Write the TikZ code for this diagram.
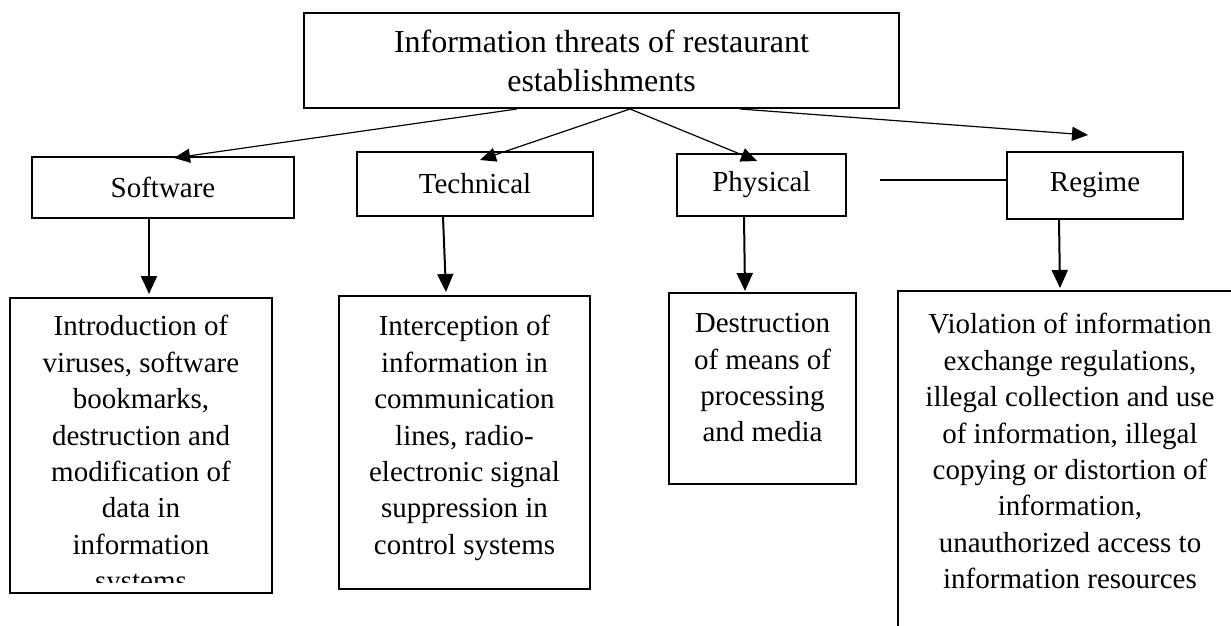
\documentclass[tikz,border=0pt]{standalone}
\usepackage{fontspec}
\setmainfont{Liberation Serif}
\usetikzlibrary{arrows.meta}

\begin{document}
\begin{tikzpicture}[x=0.5pt, y=-0.5pt, >={Triangle[length=8pt, width=7pt]},
  box/.style={draw, line width=1pt, inner sep=0pt, align=center, font=\fontsize{14.5}{18.2}\selectfont},
  txt/.style={inner sep=0pt, anchor=north, align=center, font=\fontsize{14.5}{18.2}\selectfont},
  thin arrow/.style={->, line width=0.6pt},
  thick arrow/.style={-{Triangle[length=9pt, width=8pt]}, line width=1pt}]
\useasboundingbox (0,0) rectangle (1231,626);
\clip (0,0) rectangle (1231,626);
\node[box, minimum width=297.5pt, minimum height=47.5pt, font=\fontsize{16}{19.5}\selectfont] (threats) at (601.5,60.5) {Information threats of restaurant\\establishments};
\node[box, minimum width=131pt, minimum height=30.5pt] (soft) at (163,187.5) {Software};
\node[box, minimum width=118pt, minimum height=32pt] (tech) at (475,184) {Technical};
\node[box, minimum width=84.5pt, minimum height=31pt] (phys) at (761.5,185) {Physical};
\node[box, minimum width=88pt, minimum height=33.5pt] (regime) at (1095,185.5) {Regime};
\node[box, minimum width=131pt, minimum height=147.5pt] (softDet) at (141,445.5) {};
\node[box, minimum width=125.5pt, minimum height=146.5pt] (techDet) at (464.5,442.5) {};
\node[box, minimum width=93.5pt, minimum height=95.5pt] (physDet) at (762.5,388.5) {};
\node[box, minimum width=172pt, minimum height=204.5pt] (regDet) at (1070,495.5) {};
\begin{scope}
\clip (10,298) rectangle (272,582);
\node[txt] (softText) at (141,315) {Introduction of\\viruses, software\\bookmarks,\\destruction and\\modification of\\data in\\information\\systems};
\end{scope}
\node[txt] (techText) at (464.5,315) {Interception of\\information in\\communication\\lines, radio-\\electronic signal\\suppression in\\control systems};
\node[txt] (physText) at (762.5,313) {Destruction\\of means of\\processing\\and media};
\node[txt] (regText) at (1070,313) {Violation of information\\exchange regulations,\\illegal collection and use\\of information, illegal\\copying or distortion of\\information,\\unauthorized access to\\information resources};
\coordinate (gap) at (880,180);
\draw[thin arrow] ([xshift=-42.25pt]threats.south) to ([xshift=5.5pt, yshift=-1pt]soft.north);
\draw[thin arrow] ([xshift=14.25pt]threats.south) to ([xshift=2.5pt, yshift=-4.5pt]tech.north);
\draw[thin arrow] ([xshift=14.25pt]threats.south) to ([xshift=-2.25pt, yshift=-4pt]phys.north);
\draw[thin arrow] ([xshift=69.25pt]threats.south) to ([xshift=-3.5pt, yshift=8pt]regime.north);
\draw[line width=1pt] (gap) to (gap -| regime.west);
\draw[thick arrow] ([xshift=-7pt]soft.south) to ([xshift=4pt, yshift=1.5pt]softDet.north);
\draw[thick arrow] ([xshift=-16pt]tech.south) to ([xshift=-9.25pt, yshift=1.5pt]techDet.north);
\draw[thick arrow] ([xshift=-8.75pt]phys.south) to ([xshift=-8.75pt, yshift=0.5pt]physDet.north);
\draw[thick arrow] ([xshift=-18pt]regime.south) to ([xshift=-5pt, yshift=1pt]regDet.north);
\end{tikzpicture}
\end{document}
